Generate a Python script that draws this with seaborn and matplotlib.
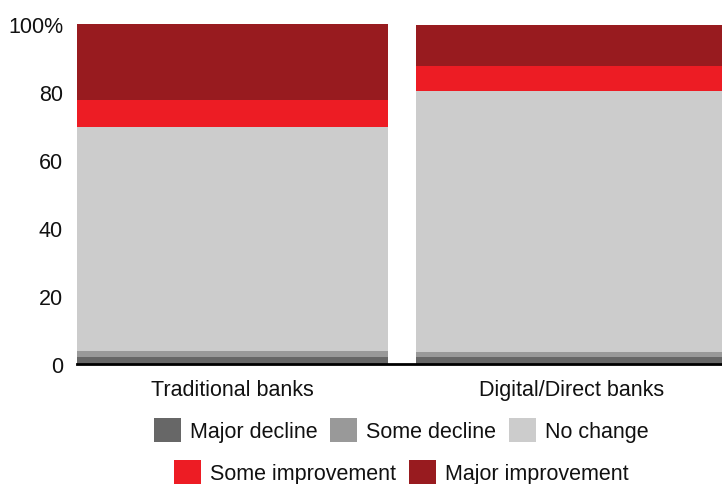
import numpy as np
import pandas as pd
import matplotlib
matplotlib.use("Agg")
import matplotlib.pyplot as plt
from matplotlib.patches import Patch
import seaborn as sns

# Bank types and the share of respondents per experience change (%)
categories = ["Traditional banks", "Digital/Direct banks"]
series_names = ["Major decline", "Some decline", "No change",
                "Some improvement", "Major improvement"]
major_decline = [2.0, 2.0]
some_decline = [2.0, 1.5]
no_change = [65.8, 76.8]
some_improvement = [8.0, 7.4]
major_improvement = [22.2, 12.0]
y_ticks = [0, 20, 40, 60, 80, 100]
y_tick_labels = ["0", "20", "40", "60", "80", "100%"]

colors = ["#676767", "#999999", "#cccccc", "#ed1c24", "#981b1f"]
values = [major_decline, some_decline, no_change, some_improvement, major_improvement]

sns.set_theme(style="white")
plt.rcParams["font.family"] = ["Liberation Sans", "DejaVu Sans"]
FS = 15.5

fig = plt.figure(figsize=(7.22, 4.85), dpi=100)
ax = fig.add_axes([0.1066, 0.247, 0.8934, 0.701])

bottoms = np.zeros(len(categories))
for name, vals, col in zip(series_names, values, colors):
    df = pd.DataFrame({"bank": categories, "share": vals})
    sns.barplot(data=df, x="bank", y="share", color=col, width=0.92,
                bottom=bottoms, saturation=1, linewidth=0, ax=ax)
    bottoms = bottoms + np.array(vals)

ax.set_xlim(-0.46, 1.445)
ax.set_ylim(0, 100)
ax.set_yticks(y_ticks)
ax.set_yticklabels(y_tick_labels)
ax.set_xlabel("")
ax.set_ylabel("")
ax.tick_params(axis="y", length=0, pad=10, labelsize=FS, colors="#111111")
ax.tick_params(axis="x", length=0, pad=11, labelsize=FS, colors="#111111")
for s in ["top", "right", "left"]:
    ax.spines[s].set_visible(False)
ax.spines["bottom"].set_color("black")
ax.spines["bottom"].set_linewidth(2)
ax.spines["bottom"].set_zorder(5)

handles = [Patch(facecolor=c, edgecolor="none", label=n) for n, c in zip(series_names, colors)]
leg_kw = dict(frameon=False, fontsize=FS, handlelength=1.25, handleheight=1.35,
              handletextpad=0.42, columnspacing=0.6, borderaxespad=0, borderpad=0)
leg1 = fig.legend(handles=handles[:3], ncol=3, loc="center",
                  bbox_to_anchor=(0.556, 1 - 431 / 485), **leg_kw)
leg2 = fig.legend(handles=handles[3:], ncol=2, loc="center",
                  bbox_to_anchor=(0.556, 1 - 473 / 485), **leg_kw)
for leg in (leg1, leg2):
    for t in leg.get_texts():
        t.set_color("#111111")

fig.savefig("out.png", dpi=100)
